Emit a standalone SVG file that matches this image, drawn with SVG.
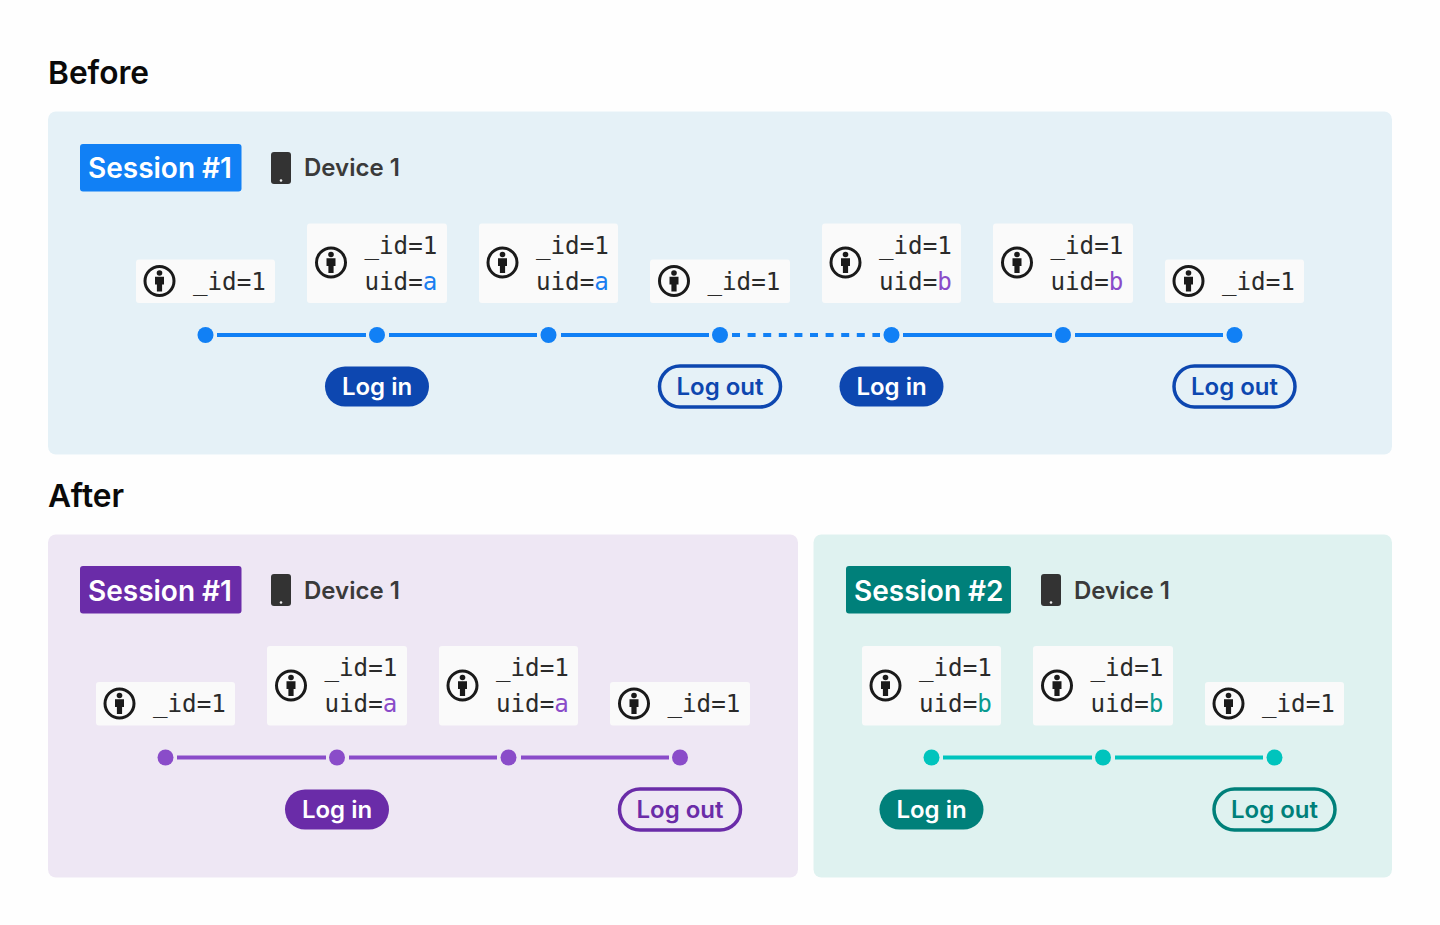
<svg xmlns="http://www.w3.org/2000/svg" width="1440" height="925" viewBox="0 0 1440 925">
<style>
text{font-family:"Inter","Liberation Sans",sans-serif}
.h{font-size:31.700px;font-weight:600;fill:#0a0a0a}
.tag{font-size:28px;font-weight:600;fill:#fff}
.dev{font-size:24px;font-weight:600;fill:#3a3a3a}
.m{font-family:"DejaVu Sans Mono","Liberation Mono",monospace;font-size:24.200px;fill:#2a2a2a}
.chip{fill:#fafafa}
.pill{font-size:24px;font-weight:600;text-anchor:middle}
.a{fill:#1a7ef0}.bb{fill:#8a4cc9}.t{fill:#0a9a90}
.lb{stroke:#1180f5;stroke-width:4;fill:none}
.lp{stroke:#8a4cc9;stroke-width:4;fill:none}
.lt{stroke:#00c4bd;stroke-width:4;fill:none}
.o{fill:none;stroke-width:3.500}
</style>
<defs>
<g id="person"><circle r="14.500" fill="none" stroke="#1a1a1a" stroke-width="3"/><circle cy="-8" r="2.800" fill="#1a1a1a"/><path d="M-4.500 -4.200H4.500V3.500H2.600V10.500H-2.600V3.500H-4.500Z" fill="#1a1a1a"/></g>
<g id="phone"><rect x="-10" y="-16" width="20" height="32" rx="3" fill="#333"/><circle cy="12.500" r="1.300" fill="#eee"/></g>
</defs>
<rect width="1440" height="925" fill="#fefefe"/>
<text class="h" x="48" y="83.500">Before</text>
<text class="h" x="48" y="506.500">After</text>
<rect x="48" y="111.500" width="1344" height="343" rx="8" fill="#e5f1f7"/>
<rect x="48" y="534.500" width="750" height="343" rx="8" fill="#eee7f4"/>
<rect x="813.500" y="534.500" width="578.500" height="343" rx="8" fill="#dff2f0"/>

<g id="connectors">
<path class="lb" d="M217 335H366M389 335H537M561 335H709M903 335H1052M1075 335H1223"/>
<path class="lb" d="M732 335H880" stroke-dasharray="8 7.600"/>
<path class="lp" d="M177 757.500H326M349 757.500H497M521 757.500H669"/>
<path class="lt" d="M943 757.500H1092M1115 757.500H1263"/>
<g fill="#1180f5"><circle cx="205.500" cy="335" r="8"/><circle cx="377" cy="335" r="8"/><circle cx="548.500" cy="335" r="8"/><circle cx="720" cy="335" r="8"/><circle cx="891.500" cy="335" r="8"/><circle cx="1063" cy="335" r="8"/><circle cx="1234.500" cy="335" r="8"/></g>
<g fill="#8a4cc9"><circle cx="165.500" cy="757.500" r="8"/><circle cx="337" cy="757.500" r="8"/><circle cx="508.500" cy="757.500" r="8"/><circle cx="680" cy="757.500" r="8"/></g>
<g fill="#00c4bd"><circle cx="931.500" cy="757.500" r="8"/><circle cx="1103" cy="757.500" r="8"/><circle cx="1274.500" cy="757.500" r="8"/></g>
</g>

<g id="before-session"><rect x="80" y="144" width="161.500" height="47.500" rx="3" fill="#1180f5"/><text class="tag" x="88" y="178">Session #1</text></g>
<g id="before-device"><use href="#phone" x="281" y="168"/><text class="dev" x="304" y="176">Device 1</text></g>
<g id="b1"><rect class="chip" x="136" y="259.500" width="139" height="43.500" rx="3"/><use href="#person" x="159.500" y="281"/><text class="m" x="193" y="289.500">_id=1</text></g>
<g id="b2"><rect class="chip" x="307" y="223.500" width="140" height="79.500" rx="3"/><use href="#person" x="331" y="262.500"/><text class="m" x="364.500" y="253.500">_id=1</text><text class="m" x="364.500" y="289.500">uid=<tspan class="a">a</tspan></text></g>
<g id="b3"><rect class="chip" x="479" y="223.500" width="139" height="79.500" rx="3"/><use href="#person" x="502.500" y="262.500"/><text class="m" x="536" y="253.500">_id=1</text><text class="m" x="536" y="289.500">uid=<tspan class="a">a</tspan></text></g>
<g id="b4"><rect class="chip" x="650" y="259.500" width="140" height="43.500" rx="3"/><use href="#person" x="674" y="281"/><text class="m" x="707.500" y="289.500">_id=1</text></g>
<g id="b5"><rect class="chip" x="822" y="223.500" width="139" height="79.500" rx="3"/><use href="#person" x="845.500" y="262.500"/><text class="m" x="879" y="253.500">_id=1</text><text class="m" x="879" y="289.500">uid=<tspan class="bb">b</tspan></text></g>
<g id="b6"><rect class="chip" x="993" y="223.500" width="140" height="79.500" rx="3"/><use href="#person" x="1017" y="262.500"/><text class="m" x="1050.500" y="253.500">_id=1</text><text class="m" x="1050.500" y="289.500">uid=<tspan class="bb">b</tspan></text></g>
<g id="b7"><rect class="chip" x="1165" y="259.500" width="139" height="43.500" rx="3"/><use href="#person" x="1188.500" y="281"/><text class="m" x="1222" y="289.500">_id=1</text></g>
<g id="b-login1"><rect x="325" y="366.500" width="104" height="40" rx="20" fill="#0d47b0"/><text class="pill" x="377" y="395" fill="#fff">Log in</text></g>
<g id="b-logout1"><rect class="o" x="659.500" y="366" width="121" height="41" rx="20.500" stroke="#0d47b0"/><text class="pill" x="720" y="395" fill="#0d47b0">Log out</text></g>
<g id="b-login2"><rect x="839.500" y="366.500" width="104" height="40" rx="20" fill="#0d47b0"/><text class="pill" x="891.500" y="395" fill="#fff">Log in</text></g>
<g id="b-logout2"><rect class="o" x="1174" y="366" width="121" height="41" rx="20.500" stroke="#0d47b0"/><text class="pill" x="1234.500" y="395" fill="#0d47b0">Log out</text></g>

<g id="after1-session"><rect x="80" y="566" width="161.500" height="47.500" rx="3" fill="#6a2ca8"/><text class="tag" x="88" y="600.500">Session #1</text></g>
<g id="after1-device"><use href="#phone" x="281" y="590"/><text class="dev" x="304" y="598.500">Device 1</text></g>
<g id="p1"><rect class="chip" x="96" y="682" width="139" height="43.500" rx="3"/><use href="#person" x="119.500" y="703.500"/><text class="m" x="153" y="712">_id=1</text></g>
<g id="p2"><rect class="chip" x="267" y="646" width="140" height="79.500" rx="3"/><use href="#person" x="291" y="685.500"/><text class="m" x="324.500" y="676">_id=1</text><text class="m" x="324.500" y="712">uid=<tspan class="bb">a</tspan></text></g>
<g id="p3"><rect class="chip" x="439" y="646" width="139" height="79.500" rx="3"/><use href="#person" x="462.500" y="685.500"/><text class="m" x="496" y="676">_id=1</text><text class="m" x="496" y="712">uid=<tspan class="bb">a</tspan></text></g>
<g id="p4"><rect class="chip" x="610" y="682" width="140" height="43.500" rx="3"/><use href="#person" x="634" y="703.500"/><text class="m" x="667.500" y="712">_id=1</text></g>
<g id="p-login"><rect x="285" y="789.500" width="104" height="40" rx="20" fill="#6a2ca8"/><text class="pill" x="337" y="818" fill="#fff">Log in</text></g>
<g id="p-logout"><rect class="o" x="619.500" y="789" width="121" height="41" rx="20.500" stroke="#6a2ca8"/><text class="pill" x="680" y="818" fill="#6a2ca8">Log out</text></g>

<g id="after2-session"><rect x="846" y="566" width="165" height="47.500" rx="3" fill="#00807a"/><text class="tag" x="854" y="600.500">Session #2</text></g>
<g id="after2-device"><use href="#phone" x="1051" y="590"/><text class="dev" x="1074" y="598.500">Device 1</text></g>
<g id="t1"><rect class="chip" x="862" y="646" width="139" height="79.500" rx="3"/><use href="#person" x="885.500" y="685.500"/><text class="m" x="919" y="676">_id=1</text><text class="m" x="919" y="712">uid=<tspan class="t">b</tspan></text></g>
<g id="t2"><rect class="chip" x="1033" y="646" width="140" height="79.500" rx="3"/><use href="#person" x="1057" y="685.500"/><text class="m" x="1090.500" y="676">_id=1</text><text class="m" x="1090.500" y="712">uid=<tspan class="t">b</tspan></text></g>
<g id="t3"><rect class="chip" x="1205" y="682" width="139" height="43.500" rx="3"/><use href="#person" x="1228.500" y="703.500"/><text class="m" x="1262" y="712">_id=1</text></g>
<g id="t-login"><rect x="879.500" y="789.500" width="104" height="40" rx="20" fill="#00807a"/><text class="pill" x="931.500" y="818" fill="#fff">Log in</text></g>
<g id="t-logout"><rect class="o" x="1214" y="789" width="121" height="41" rx="20.500" stroke="#00807a"/><text class="pill" x="1274.500" y="818" fill="#00807a">Log out</text></g>
</svg>
